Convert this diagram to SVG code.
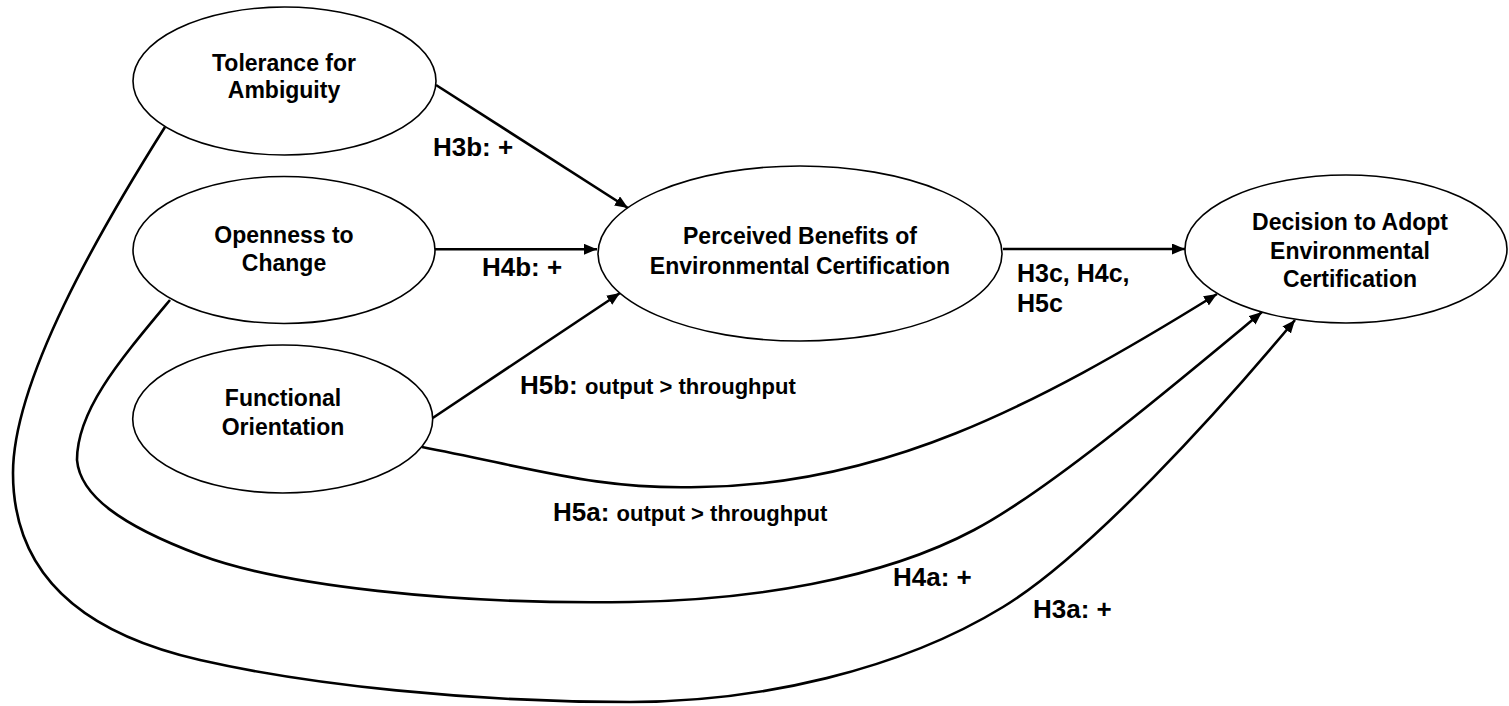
<svg xmlns="http://www.w3.org/2000/svg" width="1509" height="706" viewBox="0 0 1509 706">
<style>
.node ellipse{fill:#fff;stroke:#000;stroke-width:1.6}
.node text{font-family:"Liberation Sans",Arial,sans-serif;font-weight:bold;font-size:23px;text-anchor:middle;fill:#000}
.conn path{fill:none;stroke:#000;stroke-width:2.6}
.lbl{font-family:"Liberation Sans",Arial,sans-serif;font-weight:bold;font-size:26px;fill:#000}
.sm{font-size:22px}
.hc{font-size:25px}
</style>
<defs>
<marker id="ah" markerUnits="userSpaceOnUse" markerWidth="14" markerHeight="12" refX="13" refY="5.5" orient="auto">
<path d="M0,0 L13,5.5 L0,11 z" fill="#000"/>
</marker>
</defs>
<g class="conn">
<path d="M436,85 L628,208" marker-end="url(#ah)"/>
<path d="M435,249.3 L597,249.3" marker-end="url(#ah)"/>
<path d="M432.7,418 L620,293" marker-end="url(#ah)"/>
<path d="M1003,249 L1185,249" marker-end="url(#ah)"/>
<path d="M422,447 C540,470 600,490 700,487 C880,485 1030,410 1217,294" marker-end="url(#ah)"/>
<path d="M170,300 C120,360 77,410 77,460 C80,495 120,525 200,555 C280,585 450,605 630,602 C750,600 880,580 974,530 C1050,490 1180,380 1262,312" marker-end="url(#ah)"/>
<path d="M165,127 C100,230 13,380 13,473 C13,580 90,635 200,660 C310,685 470,702 630,702 C760,702 900,670 1003,607 C1090,554 1220,410 1295,320" marker-end="url(#ah)"/>
</g>
<g id="tolerance" class="node">
<ellipse cx="284.5" cy="81" rx="151.5" ry="74"/>
<text x="284" y="71">Tolerance for</text>
<text x="284" y="98">Ambiguity</text>
</g>
<g id="openness" class="node">
<ellipse cx="284" cy="250" rx="151" ry="73.5"/>
<text x="284" y="243">Openness to</text>
<text x="284" y="271">Change</text>
</g>
<g id="functional" class="node">
<ellipse cx="282.7" cy="419" rx="150" ry="74"/>
<text x="283" y="406">Functional</text>
<text x="283" y="435">Orientation</text>
</g>
<g id="perceived" class="node">
<ellipse cx="800" cy="253.5" rx="202" ry="87.5"/>
<text x="800" y="244">Perceived Benefits of</text>
<text x="800" y="274">Environmental Certification</text>
</g>
<g id="decision" class="node">
<ellipse cx="1346" cy="249" rx="161" ry="74"/>
<text x="1350" y="230">Decision to Adopt</text>
<text x="1350" y="259">Environmental</text>
<text x="1350" y="287">Certification</text>
</g>
<g id="labels">
<text class="lbl" x="433" y="156">H3b: +</text>
<text class="lbl" x="482" y="276">H4b: +</text>
<text class="lbl" x="520" y="394">H5b: <tspan class="sm">output &gt; throughput</tspan></text>
<text class="lbl hc" x="1017" y="282">H3c, H4c,</text>
<text class="lbl hc" x="1017" y="312">H5c</text>
<text class="lbl" x="553" y="521">H5a: <tspan class="sm">output &gt; throughput</tspan></text>
<text class="lbl" x="893" y="586">H4a: +</text>
<text class="lbl" x="1033" y="618">H3a: +</text>
</g>
</svg>
